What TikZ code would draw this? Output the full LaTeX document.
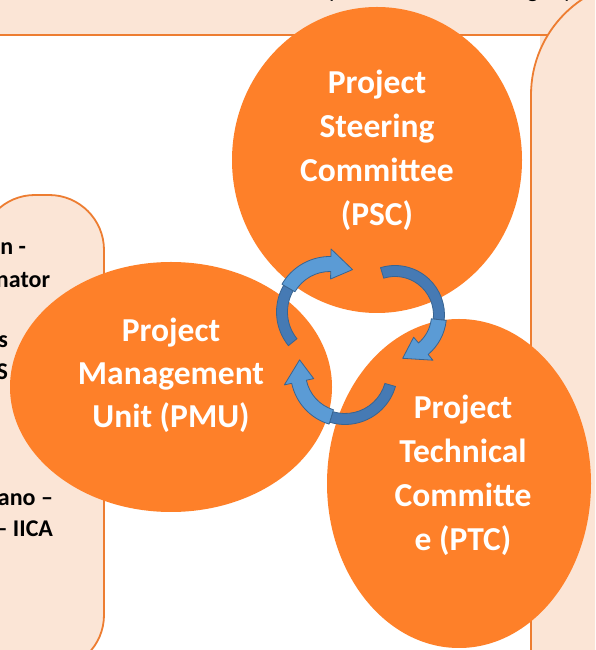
\documentclass[tikz,border=0pt]{standalone}
\usepackage{fontspec}
\setmainfont{Carlito}
\begin{document}
\begin{tikzpicture}[x=1pt,y=1pt,
  bubbleText/.style={text=white,anchor=base,inner sep=0pt,outer sep=0pt,font=\bfseries\fontsize{33.5}{40}\selectfont},
  sideText/.style={text=black,anchor=base east,inner sep=0pt,outer sep=0pt,font=\bfseries\fontsize{24}{29}\selectfont},
  topText/.style={text=black,anchor=base west,inner sep=0pt,outer sep=0pt,font=\fontsize{24}{29}\selectfont}]
\definecolor{fillColor}{RGB}{251,229,214}
\path[use as bounding box,fill=fillColor] (0,0) rectangle (595,650);
\begin{scope}
\path[clip] (  0.00,  0.00) rectangle (595.00,650.00);
\definecolor{drawColor}{RGB}{237,125,49}

\path[fill=white] (  0.00,  0.00) rectangle (540.00,614.00);

\path[draw=drawColor,line width= 1.8pt] (  0.00,615.00) -- (560.00,615.00);

\path[fill=fillColor,draw=drawColor,line width= 1.8pt,rounded corners=55] (-20.00,-20.00) rectangle (104.00,455.00);

\path[fill=fillColor,draw=drawColor,line width= 1.8pt] (531.00,-20.00) --
	(531.00,555.00) arc[start angle=180,end angle=90,radius=115] --
	(700.00,670.00) -- (700.00,-20.00) -- cycle;
\end{scope}
\begin{scope}
\path[clip] (  0.00,  0.00) rectangle (595.00,650.00);

\node[topText] (top1) at (329.00,652.00) {p};

\node[topText] (top2) at (527.00,652.00) {g};

\node[topText] (top3) at (563.00,652.00) {y};

\node[sideText] (side1) at ( 26.00,395.00) {n -};

\node[sideText] (side2) at ( 50.00,362.00) {nator};

\node[sideText] (side3) at (  8.00,302.00) {s};

\node[sideText] (side4) at (  8.00,270.00) {S};

\node[sideText] (side5) at ( 53.00,144.00) {ano –};

\node[sideText] (side6) at ( 53.00,113.00) {– IICA};
\end{scope}
\begin{scope}
\path[clip] (  0.00,  0.00) rectangle (595.00,650.00);
\definecolor{bubbleColor}{RGB}{254,128,41}

\path[fill=bubbleColor] (171.00,263.00) ellipse [x radius=161,y radius=125];

\path[fill=bubbleColor] (459.00,166.50) ellipse [x radius=132,y radius=164.5];

\path[fill=bubbleColor] (377.00,490.00) ellipse [x radius=145,y radius=153];
\end{scope}
\definecolor{lightBlue}{RGB}{91,155,213}
\definecolor{darkBlue}{RGB}{70,122,180}
\definecolor{lineBlue}{RGB}{56,100,145}
\begin{scope}[shift={(330.00,338.00)}]

\path[fill=darkBlue,draw=lineBlue,line width= 0.8pt] (219:53.5) arc[start angle=219,end angle=150,radius=53.5] --
	(150:42.5) arc[start angle=150,end angle=219,radius=42.5] -- cycle;

\path[fill=lightBlue,draw=lineBlue,line width= 0.8pt,line join=round] (150:55.5) arc[start angle=150,end angle=89,radius=55.5] --
	(89:63) -- (62:48) -- (89:33) -- (89:40.5) arc[start angle=89,end angle=150,radius=40.5] -- cycle;
\end{scope}
\begin{scope}[shift={(395.00,335.00)}]

\path[fill=darkBlue,draw=lineBlue,line width= 0.8pt] (107:49.5) arc[start angle=107,end angle=-6,radius=49.5] --
	(-6:38.5) arc[start angle=-6,end angle=107,radius=38.5] -- cycle;

\path[fill=lightBlue,draw=lineBlue,line width= 0.8pt,line join=round] (-6:51.5) arc[start angle=-6,end angle=-50,radius=51.5] --
	(-50:59) -- (-80:44) -- (-50:29) -- (-50:36.5) arc[start angle=-50,end angle=-6,radius=36.5] -- cycle;
\end{scope}
\begin{scope}[shift={(345.00,278.00)}]

\path[fill=darkBlue,draw=lineBlue,line width= 0.8pt] (-16:52.5) arc[start angle=-16,end angle=-107,radius=52.5] --
	(-107:41.5) arc[start angle=-107,end angle=-16,radius=41.5] -- cycle;

\path[fill=lightBlue,draw=lineBlue,line width= 0.8pt,line join=round] (-107:54.5) arc[start angle=-107,end angle=-168,radius=54.5] --
	(-168:62) -- (-195:47) -- (-168:32) -- (-168:39.5) arc[start angle=-168,end angle=-107,radius=39.5] -- cycle;
\end{scope}
\begin{scope}

\node[bubbleText] (psc1) at (377.00,556.00) {Project};

\node[bubbleText] (psc2) at (377.00,512.00) {Steering};

\node[bubbleText] (psc3) at (377.00,468.00) {Committee};

\node[bubbleText] (psc4) at (377.00,424.00) {(PSC)};

\node[bubbleText] (pmu1) at (171.00,308.00) {Project};

\node[bubbleText] (pmu2) at (171.00,265.00) {Management};

\node[bubbleText] (pmu3) at (171.00,222.00) {Unit (PMU)};

\node[bubbleText] (ptc1) at (463.00,231.00) {Project};

\node[bubbleText] (ptc2) at (463.00,187.00) {Technical};

\node[bubbleText] (ptc3) at (463.00,143.00) {Committe};

\node[bubbleText] (ptc4) at (463.00, 99.00) {e (PTC)};
\end{scope}
\end{tikzpicture}
\end{document}
